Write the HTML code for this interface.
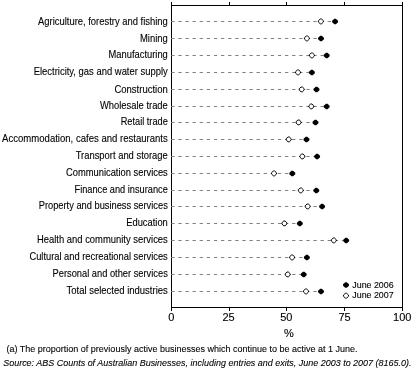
<!DOCTYPE html>
<html><head><meta charset="utf-8"><style>
html,body{margin:0;padding:0;background:#fff;width:416px;height:378px;overflow:hidden}
svg{display:block;will-change:transform}
text{font-family:"Liberation Sans",sans-serif;font-size:11px;fill:#000;stroke:#000;stroke-width:0.12}
.d{stroke:#808080;stroke-width:1.0;stroke-dasharray:3.3 3.81}
.ax{stroke:#000;stroke-width:1;fill:none}
</style></head><body>
<svg width="416" height="378" viewBox="0 0 416 378">
<rect x="171.5" y="5.5" width="231" height="302" class="ax"/>
<path class="ax" d="M171.5,2 V311 M229.5,2 V5.5 M286.5,2 V5.5 M344.5,2 V5.5 M402.5,2 V311 M229.5,307.5 V311 M286.5,307.5 V311 M344.5,307.5 V311"/>
<text x="38.0" y="25" textLength="129.8" lengthAdjust="spacingAndGlyphs">Agriculture, forestry and fishing</text>
<line x1="171.24" y1="21.5" x2="333.1" y2="21.5" class="d"/>
<path d="M320.25,19.00 L321.55,19.00 L323.40,20.75 L323.40,22.05 L321.55,23.80 L320.25,23.80 L318.40,22.05 L318.40,20.75 Z" fill="#fff" stroke="#000" stroke-width="1.0"/>
<path d="M334.35,18.65 L335.85,18.65 L338.05,20.65 L338.05,22.15 L335.85,24.15 L334.35,24.15 L332.15,22.15 L332.15,20.65 Z" fill="#000"/>
<text x="140.0" y="42" textLength="27.8" lengthAdjust="spacingAndGlyphs">Mining</text>
<line x1="171.24" y1="38.5" x2="319.0" y2="38.5" class="d"/>
<path d="M306.25,36.00 L307.55,36.00 L309.40,37.75 L309.40,39.05 L307.55,40.80 L306.25,40.80 L304.40,39.05 L304.40,37.75 Z" fill="#fff" stroke="#000" stroke-width="1.0"/>
<path d="M320.25,35.65 L321.75,35.65 L323.95,37.65 L323.95,39.15 L321.75,41.15 L320.25,41.15 L318.05,39.15 L318.05,37.65 Z" fill="#000"/>
<text x="108.5" y="58" textLength="59.3" lengthAdjust="spacingAndGlyphs">Manufacturing</text>
<line x1="171.24" y1="55.5" x2="324.7" y2="55.5" class="d"/>
<path d="M311.25,53.00 L312.55,53.00 L314.40,54.75 L314.40,56.05 L312.55,57.80 L311.25,57.80 L309.40,56.05 L309.40,54.75 Z" fill="#fff" stroke="#000" stroke-width="1.0"/>
<path d="M325.95,52.65 L327.45,52.65 L329.65,54.65 L329.65,56.15 L327.45,58.15 L325.95,58.15 L323.75,56.15 L323.75,54.65 Z" fill="#000"/>
<text x="33.7" y="75" textLength="134.1" lengthAdjust="spacingAndGlyphs">Electricity, gas and water supply</text>
<line x1="171.24" y1="72.5" x2="309.9" y2="72.5" class="d"/>
<path d="M297.35,70.00 L298.65,70.00 L300.50,71.75 L300.50,73.05 L298.65,74.80 L297.35,74.80 L295.50,73.05 L295.50,71.75 Z" fill="#fff" stroke="#000" stroke-width="1.0"/>
<path d="M311.15,69.65 L312.65,69.65 L314.85,71.65 L314.85,73.15 L312.65,75.15 L311.15,75.15 L308.95,73.15 L308.95,71.65 Z" fill="#000"/>
<text x="114.4" y="93" textLength="53.4" lengthAdjust="spacingAndGlyphs">Construction</text>
<line x1="171.24" y1="89.5" x2="314.5" y2="89.5" class="d"/>
<path d="M301.05,87.00 L302.35,87.00 L304.20,88.75 L304.20,90.05 L302.35,91.80 L301.05,91.80 L299.20,90.05 L299.20,88.75 Z" fill="#fff" stroke="#000" stroke-width="1.0"/>
<path d="M315.75,86.65 L317.25,86.65 L319.45,88.65 L319.45,90.15 L317.25,92.15 L315.75,92.15 L313.55,90.15 L313.55,88.65 Z" fill="#000"/>
<text x="100.0" y="109" textLength="67.8" lengthAdjust="spacingAndGlyphs">Wholesale trade</text>
<line x1="171.24" y1="106.5" x2="324.7" y2="106.5" class="d"/>
<path d="M310.65,104.00 L311.95,104.00 L313.80,105.75 L313.80,107.05 L311.95,108.80 L310.65,108.80 L308.80,107.05 L308.80,105.75 Z" fill="#fff" stroke="#000" stroke-width="1.0"/>
<path d="M325.95,103.65 L327.45,103.65 L329.65,105.65 L329.65,107.15 L327.45,109.15 L325.95,109.15 L323.75,107.15 L323.75,105.65 Z" fill="#000"/>
<text x="120.7" y="125" textLength="47.1" lengthAdjust="spacingAndGlyphs">Retail trade</text>
<line x1="171.24" y1="122.5" x2="313.5" y2="122.5" class="d"/>
<path d="M297.95,120.00 L299.25,120.00 L301.10,121.75 L301.10,123.05 L299.25,124.80 L297.95,124.80 L296.10,123.05 L296.10,121.75 Z" fill="#fff" stroke="#000" stroke-width="1.0"/>
<path d="M314.75,119.65 L316.25,119.65 L318.45,121.65 L318.45,123.15 L316.25,125.15 L314.75,125.15 L312.55,123.15 L312.55,121.65 Z" fill="#000"/>
<text x="2.1" y="142" textLength="165.7" lengthAdjust="spacingAndGlyphs">Accommodation, cafes and restaurants</text>
<line x1="171.24" y1="139.5" x2="304.5" y2="139.5" class="d"/>
<path d="M288.05,137.00 L289.35,137.00 L291.20,138.75 L291.20,140.05 L289.35,141.80 L288.05,141.80 L286.20,140.05 L286.20,138.75 Z" fill="#fff" stroke="#000" stroke-width="1.0"/>
<path d="M305.75,136.65 L307.25,136.65 L309.45,138.65 L309.45,140.15 L307.25,142.15 L305.75,142.15 L303.55,140.15 L303.55,138.65 Z" fill="#000"/>
<text x="75.7" y="159" textLength="92.1" lengthAdjust="spacingAndGlyphs">Transport and storage</text>
<line x1="171.24" y1="156.5" x2="315.1" y2="156.5" class="d"/>
<path d="M301.65,154.00 L302.95,154.00 L304.80,155.75 L304.80,157.05 L302.95,158.80 L301.65,158.80 L299.80,157.05 L299.80,155.75 Z" fill="#fff" stroke="#000" stroke-width="1.0"/>
<path d="M316.35,153.65 L317.85,153.65 L320.05,155.65 L320.05,157.15 L317.85,159.15 L316.35,159.15 L314.15,157.15 L314.15,155.65 Z" fill="#000"/>
<text x="66.0" y="176" textLength="101.8" lengthAdjust="spacingAndGlyphs">Communication services</text>
<line x1="171.24" y1="173.5" x2="290.3" y2="173.5" class="d"/>
<path d="M273.35,171.00 L274.65,171.00 L276.50,172.75 L276.50,174.05 L274.65,175.80 L273.35,175.80 L271.50,174.05 L271.50,172.75 Z" fill="#fff" stroke="#000" stroke-width="1.0"/>
<path d="M291.55,170.65 L293.05,170.65 L295.25,172.65 L295.25,174.15 L293.05,176.15 L291.55,176.15 L289.35,174.15 L289.35,172.65 Z" fill="#000"/>
<text x="74.5" y="193" textLength="93.3" lengthAdjust="spacingAndGlyphs">Finance and insurance</text>
<line x1="171.24" y1="190.5" x2="314.3" y2="190.5" class="d"/>
<path d="M300.15,188.00 L301.45,188.00 L303.30,189.75 L303.30,191.05 L301.45,192.80 L300.15,192.80 L298.30,191.05 L298.30,189.75 Z" fill="#fff" stroke="#000" stroke-width="1.0"/>
<path d="M315.55,187.65 L317.05,187.65 L319.25,189.65 L319.25,191.15 L317.05,193.15 L315.55,193.15 L313.35,191.15 L313.35,189.65 Z" fill="#000"/>
<text x="38.7" y="209" textLength="129.1" lengthAdjust="spacingAndGlyphs">Property and business services</text>
<line x1="171.24" y1="206.5" x2="320.1" y2="206.5" class="d"/>
<path d="M307.05,204.00 L308.35,204.00 L310.20,205.75 L310.20,207.05 L308.35,208.80 L307.05,208.80 L305.20,207.05 L305.20,205.75 Z" fill="#fff" stroke="#000" stroke-width="1.0"/>
<path d="M321.35,203.65 L322.85,203.65 L325.05,205.65 L325.05,207.15 L322.85,209.15 L321.35,209.15 L319.15,207.15 L319.15,205.65 Z" fill="#000"/>
<text x="126.2" y="226" textLength="41.6" lengthAdjust="spacingAndGlyphs">Education</text>
<line x1="171.24" y1="223.5" x2="297.8" y2="223.5" class="d"/>
<path d="M283.75,221.00 L285.05,221.00 L286.90,222.75 L286.90,224.05 L285.05,225.80 L283.75,225.80 L281.90,224.05 L281.90,222.75 Z" fill="#fff" stroke="#000" stroke-width="1.0"/>
<path d="M299.05,220.65 L300.55,220.65 L302.75,222.65 L302.75,224.15 L300.55,226.15 L299.05,226.15 L296.85,224.15 L296.85,222.65 Z" fill="#000"/>
<text x="37.0" y="243" textLength="130.8" lengthAdjust="spacingAndGlyphs">Health and community services</text>
<line x1="171.24" y1="240.5" x2="344.2" y2="240.5" class="d"/>
<path d="M333.15,238.00 L334.45,238.00 L336.30,239.75 L336.30,241.05 L334.45,242.80 L333.15,242.80 L331.30,241.05 L331.30,239.75 Z" fill="#fff" stroke="#000" stroke-width="1.0"/>
<path d="M345.45,237.65 L346.95,237.65 L349.15,239.65 L349.15,241.15 L346.95,243.15 L345.45,243.15 L343.25,241.15 L343.25,239.65 Z" fill="#000"/>
<text x="29.4" y="260" textLength="138.4" lengthAdjust="spacingAndGlyphs">Cultural and recreational services</text>
<line x1="171.24" y1="257.5" x2="304.9" y2="257.5" class="d"/>
<path d="M291.45,255.00 L292.75,255.00 L294.60,256.75 L294.60,258.05 L292.75,259.80 L291.45,259.80 L289.60,258.05 L289.60,256.75 Z" fill="#fff" stroke="#000" stroke-width="1.0"/>
<path d="M306.15,254.65 L307.65,254.65 L309.85,256.65 L309.85,258.15 L307.65,260.15 L306.15,260.15 L303.95,258.15 L303.95,256.65 Z" fill="#000"/>
<text x="52.6" y="277" textLength="115.2" lengthAdjust="spacingAndGlyphs">Personal and other services</text>
<line x1="171.24" y1="274.5" x2="301.7" y2="274.5" class="d"/>
<path d="M287.05,272.00 L288.35,272.00 L290.20,273.75 L290.20,275.05 L288.35,276.80 L287.05,276.80 L285.20,275.05 L285.20,273.75 Z" fill="#fff" stroke="#000" stroke-width="1.0"/>
<path d="M302.95,271.65 L304.45,271.65 L306.65,273.65 L306.65,275.15 L304.45,277.15 L302.95,277.15 L300.75,275.15 L300.75,273.65 Z" fill="#000"/>
<text x="66.5" y="294" textLength="101.3" lengthAdjust="spacingAndGlyphs">Total selected industries</text>
<line x1="171.24" y1="291.5" x2="319.0" y2="291.5" class="d"/>
<path d="M305.35,289.00 L306.65,289.00 L308.50,290.75 L308.50,292.05 L306.65,293.80 L305.35,293.80 L303.50,292.05 L303.50,290.75 Z" fill="#fff" stroke="#000" stroke-width="1.0"/>
<path d="M320.25,288.65 L321.75,288.65 L323.95,290.65 L323.95,292.15 L321.75,294.15 L320.25,294.15 L318.05,292.15 L318.05,290.65 Z" fill="#000"/>
<text x="171.2" y="321" text-anchor="middle">0</text>
<text x="228.6" y="321" text-anchor="middle">25</text>
<text x="286.3" y="321" text-anchor="middle">50</text>
<text x="344.5" y="321" text-anchor="middle">75</text>
<text x="402.2" y="321" text-anchor="middle">100</text>
<text x="289" y="336.5" text-anchor="middle">%</text>
<path d="M345.25,282.25 L346.75,282.25 L348.95,284.25 L348.95,285.75 L346.75,287.75 L345.25,287.75 L343.05,285.75 L343.05,284.25 Z" fill="#000"/>
<text x="352.3" y="287.8" style="font-size:9.5px" textLength="41.3" lengthAdjust="spacingAndGlyphs">June 2006</text>
<path d="M345.35,293.30 L346.65,293.30 L348.50,295.05 L348.50,296.35 L346.65,298.10 L345.35,298.10 L343.50,296.35 L343.50,295.05 Z" fill="#fff" stroke="#000" stroke-width="1.0"/>
<text x="352.3" y="297.8" style="font-size:9.5px" textLength="41.3" lengthAdjust="spacingAndGlyphs">June 2007</text>
<text x="6.5" y="352.4" style="font-size:9.5px;stroke-width:0.1" textLength="351" lengthAdjust="spacingAndGlyphs">(a) The proportion of previously active businesses which continue to be active at 1 June.</text>
<text x="3.2" y="366.4" style="font-size:9.5px;font-style:italic;stroke-width:0.1" textLength="408.3" lengthAdjust="spacingAndGlyphs">Source: ABS Counts of Australian Businesses, including entries and exits, June 2003 to 2007 (8165.0).</text>
</svg>
</body></html>
